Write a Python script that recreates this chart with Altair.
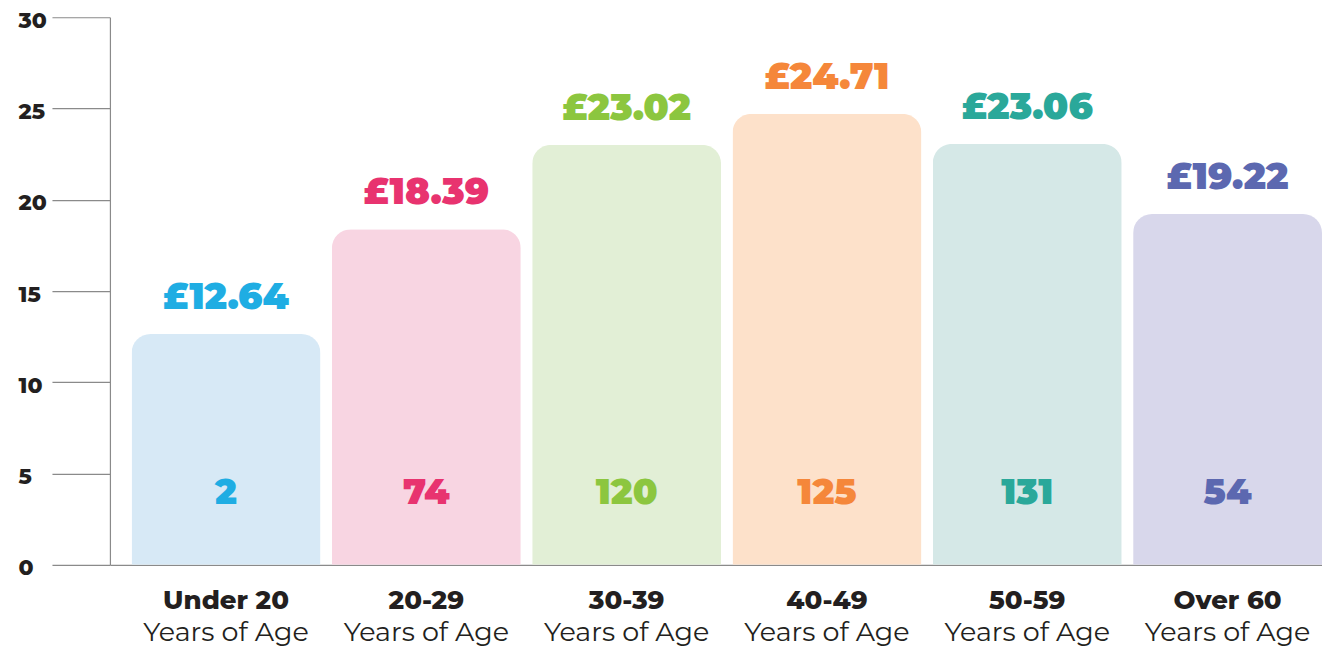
import altair as alt
import pandas as pd

groups = ["Under 20", "20-29", "30-39", "40-49", "50-59", "Over 60"]
subtitle = "Years of Age"
avg_spend = [12.64, 18.39, 23.02, 24.71, 23.06, 19.22]
counts = [2, 74, 120, 125, 131, 54]
bar_colors = ["#d7e9f6", "#f8d5e2", "#e2efd6", "#fde1ca", "#d5e8e7", "#d8d7eb"]
text_colors = ["#1fade3", "#e8336f", "#8cc63f", "#f5873a", "#2aa89a", "#5c68b0"]
y_ticks = [0, 5, 10, 15, 20, 25, 30]

df = pd.DataFrame({
    "group": groups,
    "value": avg_spend,
    "label": [f"£{v:.2f}" for v in avg_spend],
    "count": [str(c) for c in counts],
    "sub": [subtitle] * len(groups),
    "bar_color": bar_colors,
    "text_color": text_colors,
})

FONT = "Montserrat, Inter, Lato, sans-serif"
DARK = "#231f20"

x = alt.X(
    "group:N",
    sort=groups,
    scale=alt.Scale(paddingInner=0.057, paddingOuter=0.054, align=1),
    axis=alt.Axis(
        title=None, labelAngle=0, ticks=False, tickSize=0, grid=False,
        labelFont=FONT, labelFontSize=26, labelFontWeight=800, labelColor=DARK,
        labelPadding=23, domainColor="#8a8a8a", domainWidth=1.2,
    ),
)

base = alt.Chart(df)

bars = base.mark_bar(cornerRadiusTopLeft=19, cornerRadiusTopRight=19).encode(
    x=x,
    y=alt.Y(
        "value:Q",
        scale=alt.Scale(domain=[0, 30], nice=False),
        axis=alt.Axis(
            title=None, values=y_ticks, grid=False, tickSize=58,
            tickColor="#8a8a8a", domainColor="#8a8a8a", domainWidth=1.2, tickWidth=1.2,
            labelAlign="left", labelPadding=34, labelBaseline="middle", labelOffset=3,
            labelFont=FONT, labelFontSize=22, labelFontWeight=800, labelColor=DARK,
        ),
    ),
    color=alt.Color("bar_color:N", scale=None),
)

value_text = base.mark_text(
    font=FONT, fontSize=37, fontWeight=900, baseline="alphabetic", dy=-25
).encode(
    x=alt.X("group:N", sort=groups),
    y="value:Q",
    text="label:N",
    color=alt.Color("text_color:N", scale=None),
)

count_text = base.mark_text(
    font=FONT, fontSize=36, fontWeight=900, baseline="alphabetic", dy=-61
).encode(
    x=alt.X("group:N", sort=groups),
    y=alt.datum(0),
    text="count:N",
    color=alt.Color("text_color:N", scale=None),
)

sub_text = base.mark_text(
    font=FONT, fontSize=27, fontWeight=400, baseline="alphabetic", dy=76, color=DARK
).encode(
    x=alt.X("group:N", sort=groups),
    y=alt.datum(0),
    text="sub:N",
)

chart = (
    alt.layer(bars, value_text, count_text, sub_text)
    .properties(
        width=1213,
        height=548,
        background="white",
        autosize=alt.AutoSizeParams(type="none"),
        padding={"left": 102, "top": 9, "right": 0, "bottom": 84},
    )
    .configure_view(strokeWidth=0, stroke=None)
    .configure_axis(grid=False)
)

chart.save("out.html", embed_options={"renderer": "svg", "actions": False})
